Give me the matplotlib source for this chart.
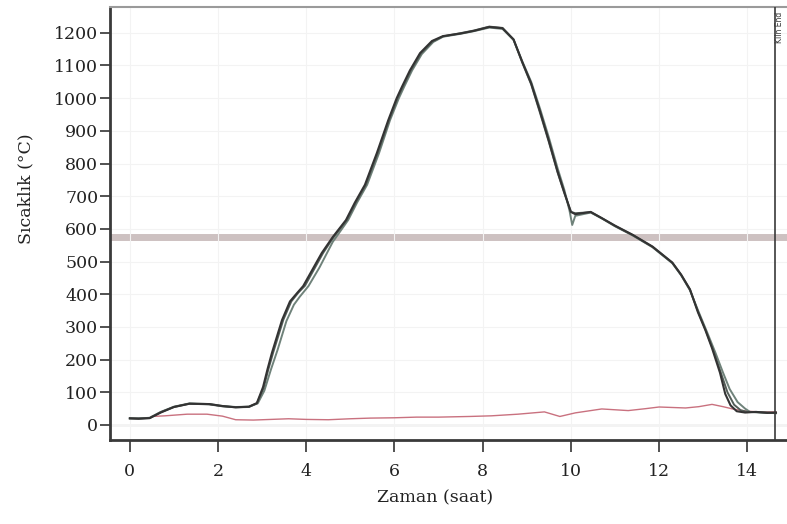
import numpy as np
import matplotlib
matplotlib.use("Agg")
import matplotlib.pyplot as plt

# ── Veriler ───────────────────────────────────────────────────
t_a = [0, 0.2, 0.45, 0.7, 1.0, 1.35, 1.8, 2.1, 2.4, 2.7, 2.88, 3.02, 3.12, 3.22,
       3.45, 3.63, 3.8, 3.93, 4.35, 4.6, 4.9, 5.1, 5.33, 5.6, 5.86, 6.05, 6.17,
       6.35, 6.58, 6.85, 7.1, 7.5, 7.8, 8.15, 8.45, 8.7, 8.9, 9.1, 9.3, 9.5,
       9.7, 9.85, 10.0, 10.1, 10.45, 10.7, 11.0, 11.4, 11.85, 12.3, 12.5, 12.7, 12.88,
       13.05, 13.2, 13.38, 13.5, 13.62, 13.76, 13.95, 14.2, 14.45, 14.65]
T_a = [20, 19, 21, 38, 55, 65, 64, 58, 54, 56, 67, 116, 170, 220,
       321, 378, 405, 425, 526, 575, 627, 680, 735, 832, 933, 1000, 1035,
       1085, 1138, 1175, 1190, 1198, 1206, 1218, 1214, 1180, 1110, 1045, 960, 870,
       775, 712, 652, 645, 652, 633, 610, 582, 546, 497, 460, 415, 345,
       290, 235, 160, 95, 60, 42, 38, 40, 37, 38]

t_b = [0, 0.2, 0.45, 0.7, 1.0, 1.35, 1.8, 2.1, 2.4, 2.7, 2.9, 3.05, 3.2, 3.35,
       3.55, 3.72, 3.85, 4.05, 4.3, 4.6, 4.95, 5.15, 5.38, 5.65, 5.9, 6.1, 6.22,
       6.4, 6.62, 6.88, 7.1, 7.5, 7.8, 8.15, 8.45, 8.7, 8.9, 9.1, 9.3, 9.5,
       9.7, 9.85, 9.97, 10.03, 10.1, 10.45, 10.7, 11.0, 11.4, 11.85, 12.3, 12.5, 12.7,
       12.9, 13.1, 13.28, 13.45, 13.6, 13.78, 13.95, 14.06, 14.3, 14.65]
T_b = [20, 20, 22, 40, 56, 66, 64, 58, 55, 56, 66, 105, 170, 230,
       318, 368, 392, 425, 482, 560, 627, 680, 735, 832, 933, 1000, 1035,
       1085, 1135, 1172, 1188, 1197, 1205, 1216, 1212, 1178, 1112, 1050, 968, 880,
       785, 720, 655, 612, 640, 650, 632, 608, 580, 544, 495, 458, 412,
       345, 280, 220, 160, 110, 70, 50, 40, 38, 37]

t_c = [0, 0.2, 0.45, 0.7, 1.0, 1.35, 1.8, 2.1, 2.4, 2.7, 2.88, 3.03, 3.14, 3.25,
       3.48, 3.66, 3.82, 3.97, 4.38, 4.62, 4.92, 5.12, 5.35, 5.62, 5.88, 6.07, 6.19,
       6.37, 6.6, 6.86, 7.1, 7.5, 7.8, 8.15, 8.45, 8.7, 8.9, 9.1, 9.3, 9.5,
       9.7, 9.85, 10.0, 10.1, 10.45, 10.7, 11.0, 11.4, 11.85, 12.3, 12.5, 12.7, 12.88,
       13.05, 13.22, 13.4, 13.55, 13.7, 13.85, 14.0, 14.3, 14.65]
T_c = [21, 20, 21, 39, 55, 65, 63, 57, 54, 55, 66, 112, 170, 222,
       322, 378, 405, 426, 526, 575, 627, 680, 735, 832, 933, 1000, 1035,
       1085, 1137, 1173, 1189, 1199, 1207, 1219, 1215, 1179, 1108, 1042, 955, 866,
       772, 710, 652, 648, 651, 633, 609, 581, 545, 496, 459, 414, 348,
       292, 232, 160, 100, 62, 45, 40, 39, 36]

# kırmızı (ortam) eğrisi
t_r = [0.5, 0.8, 1.3, 1.75, 2.1, 2.4, 2.8, 3.2, 3.6, 4.0, 4.5, 5.0, 5.45, 6.0,
       6.5, 7.0, 7.7, 8.2, 8.8, 9.4, 9.75, 10.1, 10.7, 11.3, 11.7, 12.0, 12.6,
       12.9, 13.2, 13.45, 13.7, 14.0, 14.3, 14.65]
T_r = [26, 28, 33, 33, 27, 16, 15, 17, 19, 17, 16, 19, 21, 22,
       24, 24, 26, 28, 33, 40, 26, 37, 49, 44, 50, 55, 52,
       56, 63, 56, 48, 42, 40, 40]

band_level = 575      # yatay referans bandı
kiln_end = 14.63      # "Kiln End" işareti (saat)

x_ticks = list(range(0, 15, 2))
y_ticks = list(range(0, 1201, 100))

# ── Çizim ────────────────────────────────────────────────────
plt.rcParams["font.family"] = ["DejaVu Serif"]

fig = plt.figure(figsize=(7.87, 5.24), dpi=100)
ax = fig.add_axes([110 / 787, 1 - 440 / 524, 677 / 787, 433 / 524])

ax.set_xlim(-0.45, 14.9)
ax.set_ylim(-46, 1279)

ax.grid(True, color="#f3f3f3", linewidth=0.8, zorder=0)
ax.axhline(0, color="#c8c8c8", linewidth=1.0, zorder=1)
ax.axhline(band_level, color="#cdc1c1", linewidth=5.0, zorder=1)

ax.plot(t_r, T_r, color="#c9717f", linewidth=1.0, zorder=2)
ax.plot(t_b, T_b, color="#6f827a", linewidth=1.4, zorder=3, solid_joinstyle="round")
ax.plot(t_c, T_c, color="#535d58", linewidth=1.4, zorder=3, solid_joinstyle="round")
ax.plot(t_a, T_a, color="#333333", linewidth=1.5, zorder=4, solid_joinstyle="round")

ax.axvline(kiln_end, color="#3a3a3a", linewidth=1.2, zorder=5)
ax.text(kiln_end + 0.11, 1265, "Kiln End", rotation=90, ha="center", va="top",
        fontsize=5.5, family="DejaVu Sans", color="#333333")

ax.set_xticks(x_ticks)
ax.set_yticks(y_ticks)
ax.tick_params(axis="x", direction="out", length=8.5, width=1.2, pad=8,
               labelsize=12.5, color="#333333", labelcolor="#222222")
ax.tick_params(axis="y", direction="out", length=7, width=1.2, pad=1.5,
               labelsize=12.5, color="#333333", labelcolor="#222222")

for s in ("left", "bottom"):
    ax.spines[s].set_color("#3a3a3a")
    ax.spines[s].set_linewidth(2.0)
ax.spines["top"].set_color("#9a9a9a")
ax.spines["top"].set_linewidth(1.5)
ax.spines["right"].set_visible(False)

ax.set_xlabel("Zaman (saat)", fontsize=12.5, color="#222222")
ax.set_ylabel("Sıcaklık (°C)", fontsize=12.5, color="#222222")
ax.xaxis.set_label_coords(0.48, -0.115)
ax.yaxis.set_label_coords(-0.112, 0.58)

plt.savefig("out.png", dpi=100)
plt.close()
